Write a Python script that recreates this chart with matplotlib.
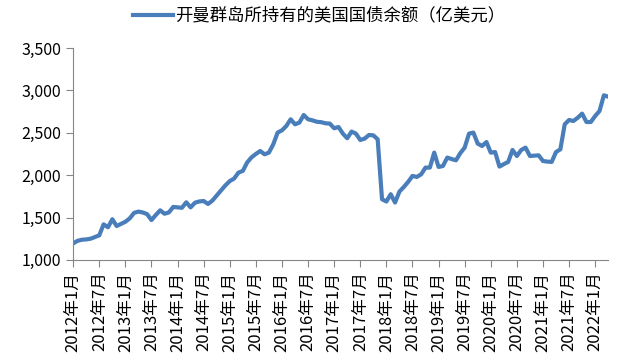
import matplotlib
matplotlib.use("Agg")
import matplotlib.pyplot as plt
from matplotlib.ticker import FuncFormatter

plt.rcParams["font.family"] = ["Noto Sans CJK SC", "DejaVu Sans"]

# monthly holdings, 2012-01 .. 2022-04 (100 million USD)
years = list(range(2012, 2023))
months = [f"{y}年{m}月" for y in years for m in range(1, 13)][:124]

holdings = [
    1195, 1225, 1238, 1242, 1250, 1270, 1290, 1420, 1385, 1480, 1400, 1425,
    1450, 1490, 1555, 1570, 1560, 1540, 1470, 1530, 1585, 1545, 1560, 1625,
    1620, 1615, 1680, 1620, 1675, 1690, 1695, 1660, 1700, 1760, 1820, 1880,
    1930, 1960, 2030, 2050, 2150, 2210, 2250, 2285, 2246, 2266, 2364, 2502,
    2529, 2580, 2659, 2600, 2620, 2710, 2659, 2647, 2630, 2625, 2612, 2608,
    2553, 2568, 2490, 2435, 2514, 2490, 2415, 2431, 2474, 2470, 2423, 1716,
    1689, 1775, 1677, 1806, 1860, 1920, 1991, 1979, 2010, 2089, 2089, 2266,
    2097, 2108, 2207, 2190, 2175, 2260, 2325, 2490, 2502, 2372, 2344, 2391,
    2266, 2273, 2101, 2130, 2156, 2297, 2226, 2297, 2325, 2226, 2230, 2234,
    2167, 2160, 2156, 2273, 2305, 2600, 2651, 2639, 2678, 2726, 2627, 2627,
    2698, 2757, 2942, 2926,
]

series_name = "开曼群岛所持有的美国国债余额（亿美元）"
y_ticks = [1000, 1500, 2000, 2500, 3000, 3500]

fig = plt.figure(figsize=(6.2, 3.61), dpi=100)
ax = fig.add_axes([0.118, 0.280, 0.863, 0.587])

x = list(range(len(holdings)))
ax.plot(x, holdings, color="#4a7ebb", linewidth=3.0, label=series_name,
        solid_joinstyle="round")

ax.set_xlim(0, len(holdings) - 1)
ax.set_ylim(1000, 3500)
ax.set_yticks(y_ticks)
ax.yaxis.set_major_formatter(FuncFormatter(lambda v, p: f"{int(v):,}"))

tick_pos = x[::6]
ax.set_xticks(tick_pos)
ax.set_xticklabels([months[i] for i in tick_pos], rotation=90, fontsize=12)
ax.tick_params(axis="y", labelsize=11.5)

for side in ["top", "right"]:
    ax.spines[side].set_visible(False)
for side in ["left", "bottom"]:
    ax.spines[side].set_color("#868686")
ax.tick_params(color="#868686", length=5, direction="out")

fig.legend(loc="upper center", bbox_to_anchor=(0.515, 1.025), frameon=False,
           fontsize=12.5, handlelength=2.3, handletextpad=0.15)

fig.savefig("out.png", dpi=100)
